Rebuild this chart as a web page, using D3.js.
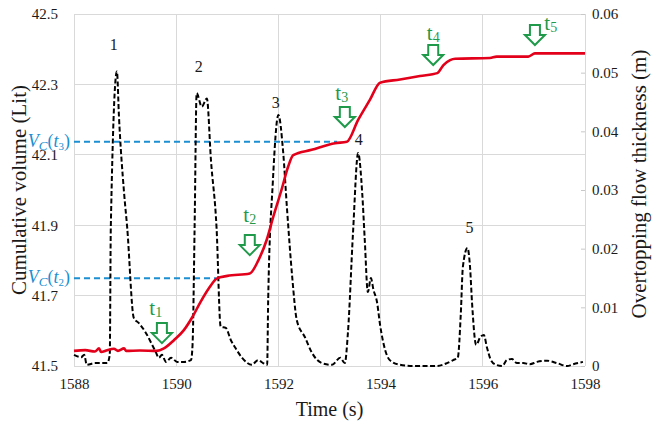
<!DOCTYPE html>
<html>
<head>
<meta charset="utf-8">
<script src="https://cdn.jsdelivr.net/npm/d3@7"></script>
</head>
<body style="margin:0;padding:0;background:#fff">
<svg id="chart" width="654" height="423" style="display:block"></svg>
<script>
// ---------- DATA ----------
const xTicks = [1588, 1590, 1592, 1594, 1596, 1598];
const leftTicks = [41.5, 41.7, 41.9, 42.1, 42.3, 42.5];
const rightTicks = [0, 0.01, 0.02, 0.03, 0.04, 0.05, 0.06];
const rightTickLabels = ["0", "0.01", "0.02", "0.03", "0.04", "0.05", "0.06"];

// Cumulative volume (Lit), left axis
const volTime = [1588.00, 1588.22, 1588.41, 1588.49, 1588.53, 1588.65, 1588.78, 1588.86, 1588.98, 1589.02,
  1589.29, 1589.62, 1589.76, 1589.96, 1590.15, 1590.32, 1590.48, 1590.64, 1590.80, 1591.00,
  1591.44, 1591.61, 1591.77, 1591.90, 1592.06, 1592.19, 1592.29, 1592.65, 1593.11, 1593.34,
  1593.56, 1593.79, 1593.99, 1594.38, 1594.77, 1595.11, 1595.23, 1595.36, 1595.46, 1596.14,
  1596.27, 1596.89, 1597.02, 1598.00];
const volume = [41.543, 41.545, 41.541, 41.550, 41.540, 41.545, 41.549, 41.543, 41.550, 41.543,
  41.544, 41.543, 41.550, 41.574, 41.602, 41.640, 41.683, 41.721, 41.749, 41.756,
  41.763, 41.801, 41.858, 41.924, 42.000, 42.066, 42.099, 42.114, 42.133, 42.137,
  42.199, 42.256, 42.305, 42.314, 42.324, 42.332, 42.355, 42.369, 42.373, 42.375,
  42.379, 42.379, 42.388, 42.388];

// Overtopping flow thickness (m), right axis
const thkTime = [1588.00, 1588.14, 1588.20, 1588.25, 1588.41, 1588.65, 1588.70, 1588.72, 1588.84, 1588.88,
  1588.98, 1589.04, 1589.17, 1589.27, 1589.41, 1589.53, 1589.60, 1589.66, 1589.72, 1589.80,
  1589.90, 1590.02, 1590.15, 1590.29, 1590.32, 1590.36, 1590.40, 1590.50, 1590.60, 1590.68,
  1590.79, 1590.87, 1590.97, 1591.07, 1591.15, 1591.29, 1591.48, 1591.60, 1591.70, 1591.78,
  1591.80, 1591.89, 1592.00, 1592.09, 1592.17, 1592.27, 1592.36, 1592.52, 1592.66, 1592.85,
  1593.05, 1593.21, 1593.30, 1593.36, 1593.46, 1593.56, 1593.64, 1593.69, 1593.75, 1593.81,
  1593.86, 1593.93, 1593.99, 1594.09, 1594.18, 1594.38, 1594.63, 1594.83, 1595.10, 1595.30,
  1595.42, 1595.51, 1595.57, 1595.61, 1595.70, 1595.75, 1595.79, 1595.87, 1595.95, 1596.02,
  1596.08, 1596.16, 1596.26, 1596.38, 1596.47, 1596.57, 1596.67, 1596.79, 1596.92, 1597.06,
  1597.26, 1597.45, 1597.65, 1597.77, 1597.96];
const thickness = [0.0019, 0.0015, 0.0019, 0.0002, 0.0005, 0.0005, 0.0019, 0.0235, 0.0502, 0.0425,
  0.0295, 0.0237, 0.0082, 0.0073, 0.0056, 0.0036, 0.0024, 0.0014, 0.0019, 0.0007,
  0.0014, 0.0007, 0.0007, 0.0010, 0.0036, 0.0235, 0.0465, 0.0442, 0.0456, 0.0351,
  0.0235, 0.0067, 0.0065, 0.0044, 0.0032, 0.0014, 0.0002, 0.0010, 0.0005, 0.0002,
  0.0113, 0.0312, 0.0428, 0.0368, 0.0266, 0.0152, 0.0078, 0.0049, 0.0022, 0.0005,
  0.0002, 0.0014, 0.0005, 0.0056, 0.0227, 0.0363, 0.0295, 0.0215, 0.0126, 0.0150,
  0.0130, 0.0109, 0.0070, 0.0027, 0.0010, 0.0002, 0.0000, 0.0000, 0.0000, 0.0005,
  0.0010, 0.0014, 0.0090, 0.0169, 0.0201, 0.0169, 0.0107, 0.0036, 0.0049, 0.0053,
  0.0032, 0.0010, 0.0002, 0.0000, 0.0010, 0.0012, 0.0005, 0.0005, 0.0003, 0.0007,
  0.0009, 0.0005, 0.0000, 0.0003, 0.0007];

// Wave numbers (placed above peaks, right-axis units)
const waveLabels = ["1", "2", "3", "4", "5"];
const waveLabelTime = [1588.78, 1590.44, 1591.95, 1593.57, 1595.74];
const waveLabelThk = [0.0539, 0.0501, 0.0440, 0.0377, 0.0227];

// Arrows t1..t5 (time, tip in left-axis units), label positions
const arrowIdx = ["1", "2", "3", "4", "5"];
const arrowTime = [1589.72, 1591.44, 1593.30, 1595.03, 1597.02];
const arrowTipVol = [41.565, 41.815, 42.179, 42.355, 42.412];
const arrowLabelTime = [1589.60, 1591.44, 1593.24, 1595.03, 1597.33];
const arrowLabelVol = [41.645, 41.909, 42.256, 42.426, 42.455];

// Vc reference levels
const vcSub = ["2", "3"];
const vcValue = [41.749, 42.137];
const vcEnd = [1590.78, 1593.15];

// ---------- CHART ----------
const FONT = "Liberation Serif";
const svg = d3.select("#chart").style("font-family", FONT);
const L = 74, R = 585, T = 14, B = 366;

const x = d3.scaleLinear().domain([1588, 1598]).range([L, R]);
const yL = d3.scaleLinear().domain([41.5, 42.5]).range([B, T]);
const yR = d3.scaleLinear().domain([0, 0.06]).range([B, T]);

const grid = "#d9d9d9";
const textCol = "#1a1a1a";

// gridlines
svg.append("g").selectAll("line").data(xTicks).join("line")
  .attr("x1", d => x(d)).attr("x2", d => x(d)).attr("y1", T).attr("y2", B)
  .attr("stroke", grid).attr("stroke-width", 1).attr("shape-rendering", "crispEdges");
svg.append("g").selectAll("line").data(leftTicks).join("line")
  .attr("x1", L).attr("x2", R).attr("y1", d => yL(d)).attr("y2", d => yL(d))
  .attr("stroke", grid).attr("stroke-width", 1).attr("shape-rendering", "crispEdges");

// axes
const axB = svg.append("g").attr("transform", `translate(0,${B})`)
  .call(d3.axisBottom(x).tickValues(xTicks).tickFormat(d3.format("d")).tickSize(0).tickPadding(12));
const axL = svg.append("g").attr("transform", `translate(${L},0)`)
  .call(d3.axisLeft(yL).tickValues(leftTicks).tickFormat(d3.format(".1f")).tickSize(0).tickPadding(16));
const axR = svg.append("g").attr("transform", `translate(${R},0)`)
  .call(d3.axisRight(yR).tickValues(rightTicks).tickFormat((d, i) => rightTickLabels[i]).tickSizeInner(-4).tickSizeOuter(0).tickPadding(7));
[axB, axL, axR].forEach(a => {
  a.attr("font-size", 15);
  a.selectAll("text").style("font-family", FONT).attr("fill", textCol);
  a.select(".domain").remove();
  a.selectAll(".tick line").attr("stroke", "#c8c8c8");
});

// Vc dashed lines
vcValue.forEach((v, i) => {
  svg.append("line")
    .attr("x1", x(1588)).attr("x2", x(vcEnd[i]))
    .attr("y1", yL(v)).attr("y2", yL(v))
    .attr("stroke", "#1b8fd2").attr("stroke-width", 2).attr("stroke-dasharray", "6,4");
  const t = svg.append("text").attr("x", 70).attr("y", yL(v) + 5)
    .attr("text-anchor", "end").attr("fill", "#1b8fd2").attr("font-size", 18)
    .style("font-family", FONT);
  t.append("tspan").attr("font-style", "italic").text("V");
  t.append("tspan").attr("font-style", "italic").attr("font-size", 13).attr("dy", 3).text("C");
  t.append("tspan").attr("dy", -3).text("(");
  t.append("tspan").attr("font-style", "italic").text("t");
  t.append("tspan").attr("font-size", 11).attr("dy", 3).text(vcSub[i]);
  t.append("tspan").attr("dy", -3).text(")");
});

// thickness (black dashed)
const thkData = thkTime.map((t, i) => [t, thickness[i]]);
svg.append("path").datum(thkData)
  .attr("fill", "none").attr("stroke", "#000").attr("stroke-width", 2)
  .attr("stroke-dasharray", "5,2.5")
  .attr("d", d3.line().x(d => x(d[0])).y(d => yR(d[1])).curve(d3.curveMonotoneX));

// volume (red)
const volData = volTime.map((t, i) => [t, volume[i]]);
svg.append("path").datum(volData)
  .attr("fill", "none").attr("stroke", "#e2001a").attr("stroke-width", 2.6)
  .attr("stroke-linejoin", "round")
  .attr("d", d3.line().x(d => x(d[0])).y(d => yL(d[1])).curve(d3.curveMonotoneX));

// wave labels
svg.append("g").selectAll("text").data(waveLabels).join("text")
  .attr("x", (d, i) => x(waveLabelTime[i])).attr("y", (d, i) => yR(waveLabelThk[i]))
  .attr("text-anchor", "middle").attr("font-size", 16).attr("fill", textCol)
  .style("font-family", FONT)
  .text(d => d);

// arrows
const green = "#1f9a4a";
arrowTime.forEach((t, i) => {
  const cx = x(t), tip = yL(arrowTipVol[i]);
  const p = [[cx - 5, tip - 20], [cx + 5, tip - 20], [cx + 5, tip - 10], [cx + 10, tip - 10],
             [cx, tip], [cx - 10, tip - 10], [cx - 5, tip - 10]];
  svg.append("path").attr("d", "M" + p.map(q => q.join(",")).join("L") + "Z")
    .attr("fill", "#fff").attr("stroke", green).attr("stroke-width", 2).attr("stroke-linejoin", "miter");
  const lt = svg.append("text").attr("x", x(arrowLabelTime[i])).attr("y", yL(arrowLabelVol[i]))
    .attr("text-anchor", "middle").attr("fill", green).attr("font-size", 21)
    .style("font-family", FONT);
  lt.append("tspan").text("t");
  lt.append("tspan").attr("font-size", 14).attr("dy", 2).text(arrowIdx[i]);
});

// axis titles
svg.append("text").attr("x", (L + R) / 2).attr("y", 416).attr("text-anchor", "middle")
  .attr("font-size", 20).attr("fill", textCol).style("font-family", FONT).text("Time (s)");
svg.append("text").attr("transform", "translate(26,190) rotate(-90)").attr("text-anchor", "middle")
  .attr("font-size", 21).attr("fill", textCol).style("font-family", FONT).text("Cumulative volume (Lit)");
svg.append("text").attr("transform", "translate(646,184) rotate(-90)").attr("text-anchor", "middle")
  .attr("font-size", 21).attr("fill", textCol).style("font-family", FONT).text("Overtopping flow thickness (m)");
</script>
</body>
</html>
